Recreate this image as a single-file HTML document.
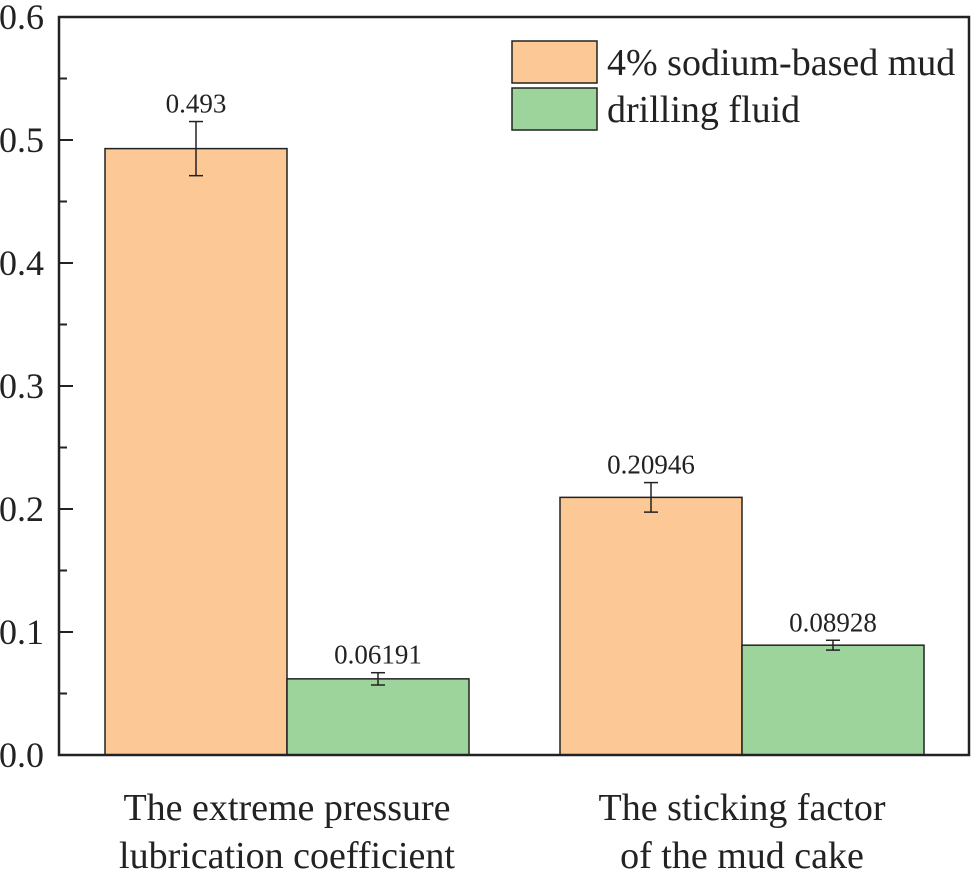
<!DOCTYPE html>
<html><head><meta charset="utf-8"><style>
body{margin:0;background:#fff}
svg{display:block;font-family:"Liberation Serif",serif}
</style></head><body>
<svg id="chart" width="972" height="880" viewBox="0 0 972 880" xmlns="http://www.w3.org/2000/svg"></svg>
<script>
const categories=["The extreme pressure|lubrication coefficient","The sticking factor|of the mud cake"];
const seriesNames=["4% sodium-based mud","drilling fluid"];
const mudValues=[0.493,0.20946];
const fluidValues=[0.06191,0.08928];
const mudErrors=[0.022,0.012];
const fluidErrors=[0.005,0.004];
const valueLabels=[["0.493","0.20946"],["0.06191","0.08928"]];
const yTicks=[0,0.1,0.2,0.3,0.4,0.5,0.6];
const yTickLabels=["0.0","0.1","0.2","0.3","0.4","0.5","0.6"];

const svg=document.getElementById('chart');
const NS="http://www.w3.org/2000/svg";
const L=59,R=969,T=17,B=755;
const y=v=>B-(v/0.6)*(B-T);
const groupStart=[105,560],barW=182;
const colors=["#fcc896","#9dd49b"];
function mk(tag,attrs,name,text){const e=document.createElementNS(NS,tag);for(const k in attrs)e.setAttribute(k,attrs[k]);


if(text!==undefined)e.textContent=text;svg.appendChild(e);return e;}
yTicks.forEach((v,i)=>{
 mk('line',{x1:L,x2:L+14,y1:y(v),y2:y(v),stroke:'#222','stroke-width':2},'y-tick');
 mk('text',{x:L-15,y:y(v)+12,'text-anchor':'end','font-size':36,fill:'#222'},'y-tick-label',yTickLabels[i]);
 if(i<yTicks.length-1){const m=(v+yTicks[i+1])/2;mk('line',{x1:L,x2:L+8,y1:y(m),y2:y(m),stroke:'#222','stroke-width':2},'y-minor-tick');}
});
const series=[mudValues,fluidValues],errs=[mudErrors,fluidErrors];
categories.forEach((c,ci)=>{
 series.forEach((s,si)=>{
  const x0=groupStart[ci]+si*barW,top=y(s[ci]);
  mk('rect',{x:x0,y:top,width:barW,height:B-top,fill:colors[si],stroke:'#222','stroke-width':1.5},'bar-'+(si?'fluid':'mud')+'-'+ci);
  const cx=x0+barW/2,e=errs[si][ci];
  mk('line',{x1:cx,x2:cx,y1:y(s[ci]+e),y2:y(s[ci]-e),stroke:'#222','stroke-width':1.5},'error-bar');
  mk('line',{x1:cx-7,x2:cx+7,y1:y(s[ci]+e),y2:y(s[ci]+e),stroke:'#222','stroke-width':1.5},'error-cap');
  mk('line',{x1:cx-7,x2:cx+7,y1:y(s[ci]-e),y2:y(s[ci]-e),stroke:'#222','stroke-width':1.5},'error-cap');
  mk('text',{x:cx,y:y(s[ci]+e)-9,'text-anchor':'middle','font-size':27,fill:'#222'},'value-label',valueLabels[si][ci]);
 });
 const lines=c.split('|'),cx=groupStart[ci]+barW;
 lines.forEach((ln,li)=>mk('text',{x:cx,y:820+li*48,'text-anchor':'middle','font-size':38,fill:'#222'},'category-label',ln));
});
mk('rect',{x:L,y:T,width:R-L,height:B-T,fill:'none',stroke:'#222','stroke-width':2.5},'plot-frame');
seriesNames.forEach((n,i)=>{
 mk('rect',{x:512,y:41+i*47,width:85,height:42,fill:colors[i],stroke:'#222','stroke-width':1.5},'legend-swatch');
 mk('text',{x:607,y:75+i*47,'font-size':38,fill:'#222'},'legend-entry',n);
});
</script>
</body></html>
